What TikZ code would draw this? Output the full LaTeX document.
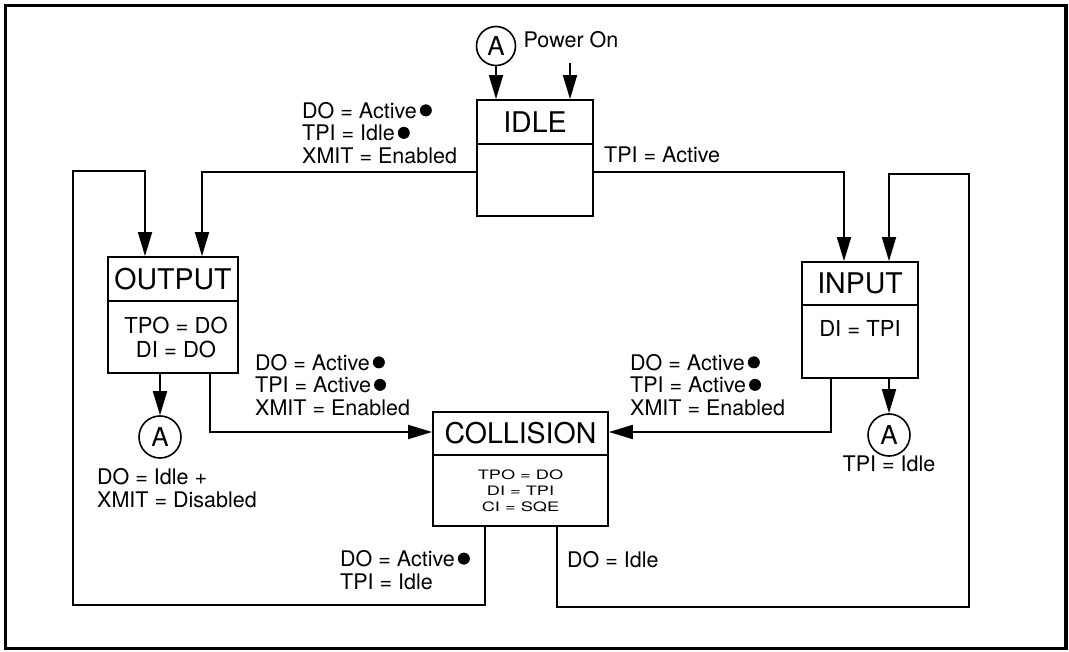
\documentclass[tikz,border=0pt]{standalone}
\usepackage{fontspec}
\setmainfont{TeX Gyre Heros}
\usetikzlibrary{arrows.meta}
\newcommand\dotmark{\hspace{3pt}\tikz[baseline=0pt]\fill (0pt,8pt) circle[radius=6pt];}
\newcommand\sm[1]{\scalebox{1.4}[1]{#1}}
\tikzset{
  box/.style={draw, line width=1.8pt, rectangle, inner sep=0pt},
  ttl/.style={box, font=\fontsize{28.5}{28.5}\selectfont},
  bdy/.style={box, align=center, font=\fontsize{22}{24}\selectfont},
  arr/.style={line width=1.8pt, -{Triangle[length=24pt,width=14pt]}},
  lbl/.style={inner sep=0pt, align=left, font=\fontsize{21.5}{22.5}\selectfont},
  acirc/.style={circle, draw, line width=1.6pt, minimum size=42pt, inner sep=0pt, font=\fontsize{26}{26}\selectfont},
}
\begin{document}
\begin{tikzpicture}[x=1pt,y=-1pt]
\useasboundingbox (0,0) rectangle (1069,652);
\draw[line width=3.5pt] (5.5,5.5) rectangle (1066,648.5);

% states
\node[ttl, minimum width=116pt, minimum height=44pt] (idleT) at (535,122) {IDLE};
\node[bdy, minimum width=116pt, minimum height=72pt] (idleB) at (535,180) {};
\node[ttl, minimum width=130pt, minimum height=44pt] (outT) at (173,279) {OUTPUT};
\node[bdy, minimum width=130pt, minimum height=72pt] (outB) at (173,337) {\hspace{6pt}TPO = DO\\\hspace{6pt}DI = DO};
\node[ttl, minimum width=116pt, minimum height=43pt] (inT) at (860,283.5) {INPUT};
\node[bdy, minimum width=116pt, minimum height=73pt] (inB) at (860,341.5) {};
\node[lbl, font=\fontsize{22}{24}\selectfont, anchor=center] (inTxt) at (860,328) {DI = TPI};
\node[ttl, minimum width=175pt, minimum height=43pt] (collT) at (520.5,433.5) {COLLISION};
\node[bdy, minimum width=175pt, minimum height=71pt, font=\fontsize{13}{16}\selectfont] (collB) at (520.5,490.5) {\sm{TPO = DO}\\\sm{DI = TPI}\\\sm{CI = SQE}};

% A circles
\node[acirc, minimum size=39pt] (aTop) at (496,46) {A};
\node[acirc] (aOut) at (160,437) {A};
\node[acirc] (aIn) at (889,435) {A};

% labels
\node[lbl, anchor=center] (pwrTxt) at (571,40) {Power On};
\coordinate (pwr) at (570,63);
\node[lbl, anchor=west] (l1) at (302,133) {DO = Active\dotmark\\TPI = Idle\dotmark\\XMIT = Enabled};
\node[lbl, anchor=west] (l2) at (604,155) {TPI = Active};
\node[lbl, anchor=west] (l3) at (255,385) {DO = Active\dotmark\\TPI = Active\dotmark\\XMIT = Enabled};
\node[lbl, anchor=west] (l4) at (630,385) {DO = Active\dotmark\\TPI = Active\dotmark\\XMIT = Enabled};
\node[lbl, anchor=west] (l5) at (97,488) {DO = Idle +\\XMIT = Disabled};
\node[lbl, anchor=center] (l6) at (889,464) {TPI = Idle};
\node[lbl, anchor=west] (l7) at (340,570) {DO = Active\dotmark\\TPI = Idle};
\node[lbl, anchor=west] (l8) at (567,560) {DO = Idle};

% connectors
\draw[arr] (aTop.south) -- (aTop.south |- idleT.north);
\draw[arr] (pwr) -- (pwr |- idleT.north);

\coordinate (b1) at (202,172);
\draw[arr] (idleB.west |- b1) -- (b1) -- (b1 |- outT.north);
\coordinate (b2) at (844,172);
\draw[arr] (idleB.east |- b2) -- (b2) -- (b2 |- inT.north);

\draw[arr] (aOut.north |- outB.south) -- (aOut.north);
\draw[arr] (aIn.north |- inB.south) -- (aIn.north);

\coordinate (b4) at (210,432);
\draw[arr] (outB.south -| b4) -- (b4) -- (collT.west |- b4);
\coordinate (b5) at (831,432);
\draw[arr] (inB.south -| b5) -- (b5) -- (collT.east |- b5);

\coordinate (p1) at (485,605);
\coordinate (p1b) at (73,171);
\coordinate (p1c) at (145,171);
\draw[arr] (collB.south -| p1) -- (p1) -| (p1b) -- (p1c) -- (p1c |- outT.north);

\coordinate (p2) at (557,607);
\coordinate (p2b) at (969,174);
\coordinate (p2c) at (889,174);
\draw[arr] (collB.south -| p2) -- (p2) -| (p2b) -- (p2c) -- (p2c |- inT.north);
\end{tikzpicture}
\end{document}
